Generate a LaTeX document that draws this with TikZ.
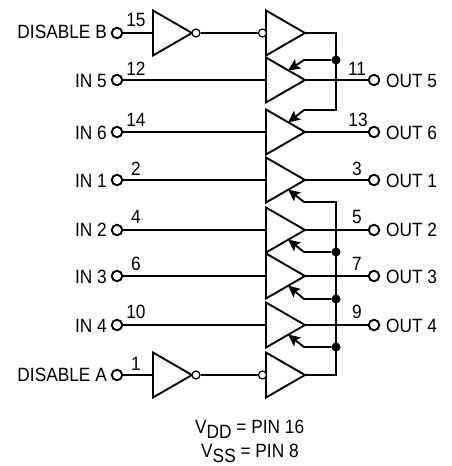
\documentclass[tikz,border=0pt]{standalone}
\usepackage{fontspec}
\setmainfont[FakeStretch=0.9]{Liberation Sans}
\usetikzlibrary{arrows.meta}
\newcommand{\myfont}{\fontsize{19.2}{20}\selectfont}
\newcommand{\mybuf}[3]{%
  \coordinate (#1-in) at (#2,#3);
  \coordinate (#1-out) at ([xshift=39]#1-in);
  \draw[wire,line join=miter,fill=white] ([yshift=22.5]#1-in) -- (#1-out) -- ([yshift=-22.5]#1-in) -- cycle;
  \coordinate (#1-up) at ([xshift=23,yshift=10.5]#1-in);
  \coordinate (#1-dn) at ([xshift=23,yshift=-10.5]#1-in);
}
\tikzset{
  x=1pt,y=-1pt,
  wire/.style={line width=1.9pt,black},
  pin/.style={circle,draw=black,line width=1.9pt,fill=white,minimum size=10.5pt,inner sep=0pt},
  bubble/.style={circle,draw=black,line width=1.2pt,fill=white,minimum size=8pt,inner sep=0pt},
  dotj/.style={circle,fill=black,minimum size=9pt,inner sep=0pt},
  enarrow/.style={wire,-{Stealth[length=12pt,width=11pt,inset=2.5pt]}},
  lab/.style={font=\myfont,inner sep=0pt},
  num/.style={font=\myfont,inner sep=0pt,anchor=base},
}
\begin{document}
\begin{tikzpicture}
\useasboundingbox (0,0) rectangle (452,466);
% pins
\node[pin] (dbp) at (117,33) {};
\node[pin] (i5) at (117,80) {};
\node[pin] (i6) at (117,132) {};
\node[pin] (i1) at (117,180) {};
\node[pin] (i2) at (117,230) {};
\node[pin] (i3) at (117,276) {};
\node[pin] (i4) at (117,325) {};
\node[pin] (dap) at (117,375) {};
\node[pin] (o5) at (374,80) {};
\node[pin] (o6) at (374,132) {};
\node[pin] (o1) at (374,180) {};
\node[pin] (o2) at (374,230) {};
\node[pin] (o3) at (374,276) {};
\node[pin] (o4) at (374,325) {};
% buses
\coordinate (bt) at (336,33);
\coordinate (bb) at (336,110);
\coordinate (ct) at (336,202);
\coordinate (cb) at (336,375);
\coordinate (n5) at (304,60);
\coordinate (n6) at (304,110);
\coordinate (n1) at (304,202);
\coordinate (n2) at (304,252);
\coordinate (n3) at (304,299);
\coordinate (n4) at (304,347);
\node[dotj] (d5) at (336,60) {};
\node[dotj] (d2) at (336,252) {};
\node[dotj] (d3) at (336,299) {};
\node[dotj] (d4) at (336,347) {};
% buffers
\mybuf{bb0}{266}{33}
\mybuf{b5}{266}{80}
\mybuf{b6}{266}{132}
\mybuf{b1}{266}{180}
\mybuf{b2}{266}{230}
\mybuf{b3}{266}{276}
\mybuf{b4}{266}{325}
\mybuf{ba0}{266}{375}
\mybuf{invb}{153}{33}
\mybuf{inva}{153}{375}
% inverter bubbles
\node[bubble] (bub1) at (196,33) {};
\node[bubble] (bub2) at (262.5,33) {};
\node[bubble] (bua1) at (196,375) {};
\node[bubble] (bua2) at (262.5,375) {};
% connectors
\draw[wire] (dbp) -- (invb-in);
\draw[wire] (bub1) -- (bub2);
\draw[wire] (dap) -- (inva-in);
\draw[wire] (bua1) -- (bua2);
\draw[wire] (i5) -- (b5-in);
\draw[wire] (i6) -- (b6-in);
\draw[wire] (i1) -- (b1-in);
\draw[wire] (i2) -- (b2-in);
\draw[wire] (i3) -- (b3-in);
\draw[wire] (i4) -- (b4-in);
\draw[wire] (b5-out) -- (o5);
\draw[wire] (b6-out) -- (o6);
\draw[wire] (b1-out) -- (o1);
\draw[wire] (b2-out) -- (o2);
\draw[wire] (b3-out) -- (o3);
\draw[wire] (b4-out) -- (o4);
\draw[wire] (bb0-out) -- (bt) -- (bb) -- (n6);
\draw[wire] (ba0-out) -- (cb) -- (ct) -- (n1);
\draw[enarrow] (d5) -- (n5) -- ([xshift=-1,yshift=-1]b5-up);
\draw[enarrow] (n6) -- ([xshift=-1,yshift=-1]b6-up);
\draw[enarrow] (n1) -- ([xshift=-1,yshift=1]b1-dn);
\draw[enarrow] (d2) -- (n2) -- ([xshift=-1,yshift=1]b2-dn);
\draw[enarrow] (d3) -- (n3) -- ([xshift=-1,yshift=1]b3-dn);
\draw[enarrow] (d4) -- (n4) -- ([xshift=-1,yshift=1]b4-dn);
% left labels
\node[lab,anchor=east] (tb) at (107,32) {DISABLE B};
\node[lab,anchor=east] (t5) at (107,81) {IN 5};
\node[lab,anchor=east] (t6) at (107,133) {IN 6};
\node[lab,anchor=east] (t1) at (107,181) {IN 1};
\node[lab,anchor=east] (t2) at (107,230) {IN 2};
\node[lab,anchor=east] (t3) at (107,277) {IN 3};
\node[lab,anchor=east] (t4) at (107,326) {IN 4};
\node[lab,anchor=east] (ta) at (107,375) {DISABLE A};
% right labels
\node[lab,anchor=west] (r5) at (386,81) {OUT 5};
\node[lab,anchor=west] (r6) at (386,133) {OUT 6};
\node[lab,anchor=west] (r1) at (386,181) {OUT 1};
\node[lab,anchor=west] (r2) at (386,230) {OUT 2};
\node[lab,anchor=west] (r3) at (386,277) {OUT 3};
\node[lab,anchor=west] (r4) at (386,326) {OUT 4};
% pin numbers
\node[num] (p15) at (136,26) {15};
\node[num] (p12) at (136,75) {12};
\node[num] (p14) at (136,126) {14};
\node[num] (p2) at (136,175) {2};
\node[num] (p4) at (136,223) {4};
\node[num] (p6) at (136,270) {6};
\node[num] (p10) at (136,318) {10};
\node[num] (p1) at (136,370) {1};
\node[num] (p11) at (357,75) {11};
\node[num] (p13) at (358,126) {13};
\node[num] (p3) at (357,175) {3};
\node[num] (p5) at (357,223) {5};
\node[num] (p7) at (357,270) {7};
\node[num] (p9) at (357,318) {9};
% supply
\node[lab,anchor=base west] (vdd) at (195,433) {V\raisebox{-5pt}{DD} = PIN 16};
\node[lab,anchor=base west] (vss) at (201,457.5) {V\raisebox{-4.5pt}{SS} = PIN 8};
\end{tikzpicture}
\end{document}
